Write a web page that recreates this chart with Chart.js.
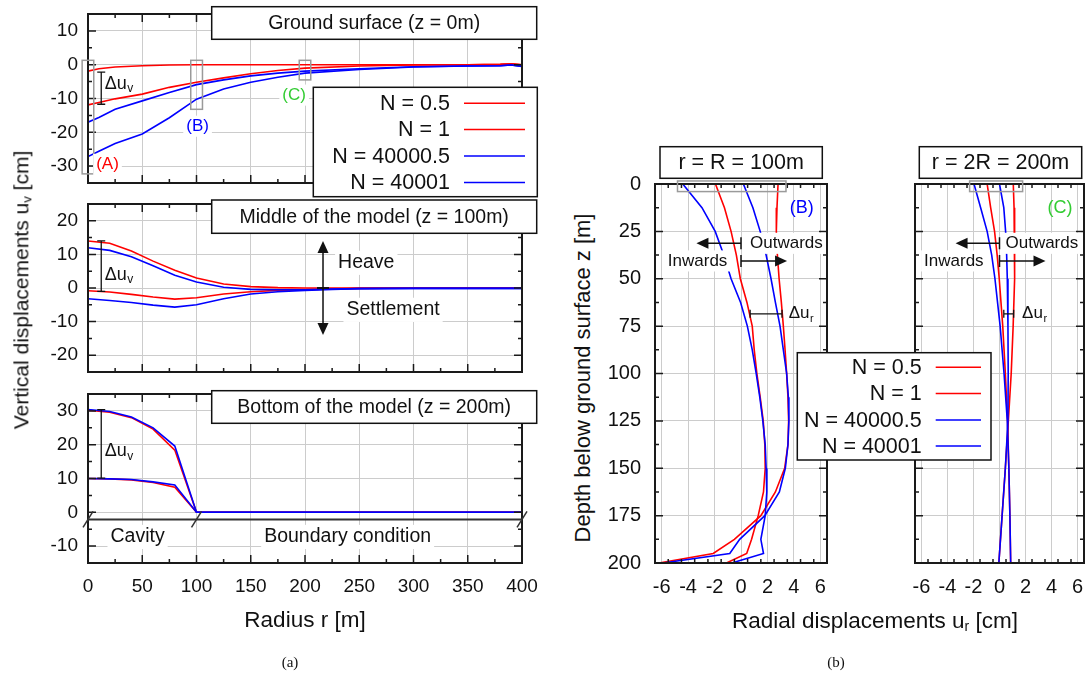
<!DOCTYPE html>
<html>
<head>
<meta charset="utf-8">
<title>Vertical and radial displacements</title>
<script src="https://cdn.jsdelivr.net/npm/chart.js@4.4.1/dist/chart.umd.min.js"></script>
<style>
  body { margin: 0; width: 1088px; height: 683px; background: #fff; position: relative; overflow: hidden;
         font-family: "Liberation Sans", Arial, sans-serif; color: #111; }
  canvas { position: absolute; }
  .axt { position: absolute; white-space: nowrap; font-size: 21px; transform: translate(-50%, -50%); }
  .rot { transform: translate(-50%, -50%) rotate(-90deg); }
  .cap { position: absolute; font-family: "Liberation Serif", "Times New Roman", serif; font-size: 15px; transform: translate(-50%, -50%); }
  sub { font-size: 0.62em; vertical-align: -0.25em; }
</style>
</head>
<body>
<canvas id="ground" width="545" height="200" style="left:0;top:0"></canvas>
<canvas id="middle" width="545" height="185" style="left:0;top:195px"></canvas>
<canvas id="bottom" width="545" height="225" style="left:0;top:385px"></canvas>
<canvas id="atR" width="240" height="470" style="left:600px;top:140px"></canvas>
<canvas id="at2R" width="298" height="470" style="left:790px;top:140px"></canvas>

<div class="axt rot" style="left:22px;top:290px">Vertical displacements u<sub>v</sub> [cm]</div>
<div class="axt" style="left:305px;top:620px;font-size:22.5px">Radius r [m]</div>
<div class="axt rot" style="left:583px;top:378px;font-size:22px">Depth below ground surface z [m]</div>
<div class="axt" style="left:875px;top:621px;font-size:22.5px">Radial displacements u<sub>r</sub> [cm]</div>
<div class="cap" style="left:290px;top:662px">(a)</div>
<div class="cap" style="left:836px;top:662px">(b)</div>

<script>
// series (same order in every panel)
const seriesNames = ["N = 0.5", "N = 1", "N = 40000.5", "N = 40001"];
const seriesColors = ["#ff0000", "#ff0000", "#0000ff", "#0000ff"];

// tick labels
const radiusTicks = [0, 50, 100, 150, 200, 250, 300, 350, 400];
const groundTicks = [-30, -20, -10, 0, 10];
const middleTicks = [-20, -10, 0, 10, 20];
const bottomTicks = [-10, 0, 10, 20, 30];
const radialTicks = [-6, -4, -2, 0, 2, 4, 6];
const depthTicks = [0, 25, 50, 75, 100, 125, 150, 175, 200];

// (a) ground surface, z = 0m  -> u_v [cm] over radius r [m]
const rGround = [0, 10, 25, 50, 75, 100, 125, 150, 175, 200, 250, 300, 350, 380, 390, 400];
const uvGroundN05 = [-11.9, -11.2, -10.1, -8.7, -6.7, -5.2, -3.9, -2.7, -1.7, -1.0, -0.4, -0.1, 0, 0.1, 0.3, 0];
const uvGroundN1 = [-1.9, -1.2, -0.7, -0.3, -0.1, 0, 0, 0, 0, 0, 0, 0, 0, 0.1, 0.3, 0];
const uvGroundN40000_5 = [-17.0, -15.6, -13.2, -10.7, -8.2, -5.9, -4.5, -3.3, -2.5, -1.9, -1.2, -0.6, -0.4, -0.3, -0.1, -0.5];
const uvGroundN40001 = [-27.2, -25.6, -23.3, -20.5, -15.7, -10.2, -7.2, -5.2, -3.7, -2.5, -1.4, -0.7, -0.4, -0.3, -0.1, -0.5];

// (a) middle of the model, z = 100m
const rMiddle = [0, 20, 40, 60, 80, 100, 125, 150, 175, 200, 225, 250, 300, 350, 400];
const uvMiddleN05 = [14.0, 13.3, 11.0, 8.0, 5.3, 3.0, 1.2, 0.4, 0.1, 0, 0, 0, 0, 0, 0];
const uvMiddleN1 = [-0.8, -1.2, -1.9, -2.7, -3.3, -2.9, -1.8, -1.1, -0.7, -0.5, -0.3, -0.1, 0, 0, 0];
const uvMiddleN40000_5 = [12.0, 11.2, 9.3, 6.6, 3.8, 1.8, 0.2, -0.4, -0.5, -0.5, -0.3, -0.2, -0.1, -0.1, -0.1];
const uvMiddleN40001 = [-3.2, -3.7, -4.3, -5.1, -5.7, -5.0, -3.2, -1.8, -1.1, -0.7, -0.4, -0.2, -0.1, -0.1, -0.1];

// (a) bottom of the model, z = 200m
const rBottom = [0, 20, 40, 60, 80, 100, 400];
const uvBottomN05 = [30.2, 29.6, 28.0, 24.6, 18.4, 0, 0];
const uvBottomN1 = [10.0, 9.9, 9.6, 8.8, 7.4, 0, 0];
const uvBottomN40000_5 = [30.4, 29.8, 28.2, 25.0, 19.6, 0, 0];
const uvBottomN40001 = [10.0, 9.9, 9.7, 9.0, 8.1, 0, 0];

// (b) r = R = 100m  -> u_r [cm] over depth z [m]
const zR = [0, 12.5, 25, 37.5, 50, 62.5, 75, 87.5, 100, 112.5, 125, 137.5, 150, 162.5, 175, 187.5, 195, 200];
const urRN05 = [2.8, 2.72, 2.67, 2.75, 2.88, 3.05, 3.2, 3.33, 3.45, 3.55, 3.6, 3.55, 3.3, 2.6, 1.5, -0.5, -2.1, -6.2];
const urRN1 = [-1.93, -1.25, -0.75, -0.35, -0.05, 0.45, 0.85, 1.0, 1.2, 1.45, 1.68, 1.8, 1.83, 1.7, 1.3, 0.8, 0.43, -1.1];
const urRN40000_5 = [0.18, 0.9, 1.45, 1.9, 2.27, 2.6, 2.95, 3.2, 3.45, 3.58, 3.62, 3.55, 3.35, 2.9, 1.8, -0.1, -0.85, -5.9];
const urRN40001 = [-4.4, -2.95, -1.95, -1.3, -0.75, -0.03, 0.48, 0.85, 1.15, 1.42, 1.65, 1.83, 1.9, 1.95, 1.83, 1.5, 1.7, -0.7];

// (b) r = 2R = 200m
const z2R = [0, 12.5, 25, 37.5, 50, 75, 100, 125, 150, 175, 200];
const ur2RN05 = [1.06, 1.12, 1.17, 1.17, 1.15, 1.05, 0.9, 0.68, 0.45, 0.2, -0.05];
const ur2RN1 = [-0.95, -0.68, -0.38, -0.18, -0.02, 0.25, 0.45, 0.62, 0.72, 0.8, 0.86];
const ur2RN40000_5 = [0.0, 0.33, 0.47, 0.55, 0.6, 0.65, 0.67, 0.65, 0.45, 0.2, -0.05];
const ur2RN40001 = [-1.96, -1.45, -0.95, -0.6, -0.35, 0.05, 0.35, 0.6, 0.72, 0.8, 0.86];

const FONT = '"Liberation Sans", Arial, sans-serif';
Chart.defaults.font.family = FONT;
Chart.defaults.color = "#111";

function pairs(xs, ys) { return xs.map((x, i) => ({ x: x, y: ys[i] })); }
function depthPairs(zs, us) { return zs.map((z, i) => ({ x: us[i], y: z })); }

function arrowHead(ctx, x, y, dx, dy, len, half) {
  ctx.beginPath();
  ctx.moveTo(x, y);
  ctx.lineTo(x - dx * len - dy * half, y - dy * len + dx * half);
  ctx.lineTo(x - dx * len + dy * half, y - dy * len - dx * half);
  ctx.closePath();
  ctx.fill();
}

// keep the plot box exactly where it was measured (no label overhang padding)
function noPad(s) { s.paddingTop = 0; s.paddingBottom = 0; s.paddingLeft = 0; s.paddingRight = 0; }

// frame, inward ticks and the gnuplot style labels/arrows
const decor = {
  id: "decor",
  afterDraw(chart, args, o) {
    const ctx = chart.ctx, a = chart.chartArea;
    const xs = chart.scales.x, ys = chart.scales.y;
    const X = v => xs.getPixelForValue(v), Y = v => ys.getPixelForValue(v);
    const px = v => v - o.ox, py = v => v - o.oy;
    ctx.save();

    ctx.strokeStyle = "#1a1a1a";
    ctx.lineWidth = 1.5;
    ctx.beginPath();
    for (let v = xs.min; v <= xs.max + 1e-9; v += o.xMinor) {
      const major = o.xTicks.some(t => Math.abs(t - v) < 1e-6);
      const l = major ? 8 : 4, x = X(v);
      ctx.moveTo(x, a.bottom); ctx.lineTo(x, a.bottom - l);
      ctx.moveTo(x, a.top); ctx.lineTo(x, a.top + l);
    }
    for (let v = Math.min(ys.min, ys.max); v <= Math.max(ys.min, ys.max) + 1e-9; v += o.yMinor) {
      const major = o.yTicks.some(t => Math.abs(t - v) < 1e-6);
      const l = major ? 8 : 4, y = Y(v);
      ctx.moveTo(a.left, y); ctx.lineTo(a.left + l, y);
      ctx.moveTo(a.right, y); ctx.lineTo(a.right - l, y);
    }
    ctx.stroke();
    ctx.lineWidth = 2;
    ctx.strokeRect(a.left, a.top, a.right - a.left, a.bottom - a.top);

    (o.items || []).forEach(it => {
      ctx.fillStyle = "#111";
      ctx.strokeStyle = "#111";
      if (it.type === "grayRect") {
        ctx.strokeStyle = "#9a9a9a"; ctx.lineWidth = 1.5;
        const x0 = X(it.x0), x1 = X(it.x1), y0 = Y(it.y0), y1 = Y(it.y1);
        ctx.strokeRect(Math.min(x0, x1), Math.min(y0, y1), Math.abs(x1 - x0), Math.abs(y1 - y0));
      } else if (it.type === "label") {
        ctx.font = it.size + "px " + FONT;
        ctx.textBaseline = "middle";
        ctx.textAlign = it.align || "center";
        const w = ctx.measureText(it.text).width;
        const x = X(it.x), y = Y(it.y);
        if (it.bg) {
          const lx = it.align === "left" ? x : x - w / 2;
          ctx.fillStyle = "#fff";
          ctx.fillRect(lx - 3, y - it.size * 0.62, w + 6, it.size * 1.24);
        }
        ctx.fillStyle = it.color || "#111";
        ctx.fillText(it.text, x, y);
      } else if (it.type === "delta") {
        ctx.font = it.size + "px " + FONT;
        ctx.textBaseline = "middle"; ctx.textAlign = "left";
        const x = X(it.x), y = Y(it.y);
        const w = ctx.measureText("\u0394u").width;
        ctx.fillText("\u0394u", x, y);
        ctx.font = Math.round(it.size * 0.65) + "px " + FONT;
        ctx.fillText(it.sub, x + w + 0.5, y + it.size * 0.3);
      } else if (it.type === "vbracket") {
        ctx.lineWidth = 1.3;
        const x = X(it.x), y0 = Y(it.y0), y1 = Y(it.y1);
        ctx.beginPath();
        ctx.moveTo(x, y0); ctx.lineTo(x, y1);
        ctx.moveTo(x - 4, y0); ctx.lineTo(x + 4, y0);
        ctx.moveTo(x - 4, y1); ctx.lineTo(x + 4, y1);
        ctx.stroke();
      } else if (it.type === "hbracket") {
        ctx.lineWidth = 1.3;
        const y = Y(it.y), x0 = X(it.x0), x1 = X(it.x1);
        ctx.beginPath();
        ctx.moveTo(x0, y); ctx.lineTo(x1, y);
        ctx.moveTo(x0, y - 4); ctx.lineTo(x0, y + 4);
        ctx.moveTo(x1, y - 4); ctx.lineTo(x1, y + 4);
        ctx.stroke();
      } else if (it.type === "arrow") {
        ctx.lineWidth = 1.5;
        const x0 = X(it.x0), y0 = Y(it.y0), x1 = X(it.x1), y1 = Y(it.y1);
        const d = Math.hypot(x1 - x0, y1 - y0), dx = (x1 - x0) / d, dy = (y1 - y0) / d;
        ctx.beginPath();
        ctx.moveTo(x0, y0); ctx.lineTo(x1 - dx * 8, y1 - dy * 8);
        ctx.moveTo(x0 - dy * 6, y0 + dx * 6); ctx.lineTo(x0 + dy * 6, y0 - dx * 6);
        ctx.stroke();
        arrowHead(ctx, x1, y1, dx, dy, 12, 5.5);
      } else if (it.type === "hline") {
        ctx.strokeStyle = "#333"; ctx.lineWidth = 2;
        ctx.beginPath(); ctx.moveTo(X(it.x0), Y(it.y)); ctx.lineTo(X(it.x1), Y(it.y)); ctx.stroke();
      } else if (it.type === "slash") {
        ctx.strokeStyle = "#333"; ctx.lineWidth = 1.5;
        const x = X(it.x), y = Y(it.y);
        ctx.beginPath(); ctx.moveTo(x - 5, y + 8); ctx.lineTo(x + 5, y - 8); ctx.stroke();
      } else if (it.type === "titleBox") {
        const x0 = px(it.x0), y0 = py(it.y0), w = it.x1 - it.x0, h = it.y1 - it.y0;
        ctx.fillStyle = "#fff"; ctx.fillRect(x0, y0, w, h);
        ctx.lineWidth = 1.5; ctx.strokeStyle = "#111"; ctx.strokeRect(x0, y0, w, h);
        ctx.fillStyle = "#111"; ctx.font = it.size + "px " + FONT;
        ctx.textAlign = "center"; ctx.textBaseline = "middle";
        ctx.fillText(it.text, x0 + w / 2, y0 + h / 2 + 1);
      } else if (it.type === "legend") {
        const x0 = px(it.x0), y0 = py(it.y0), w = it.x1 - it.x0, h = it.y1 - it.y0;
        ctx.fillStyle = "#fff"; ctx.fillRect(x0, y0, w, h);
        ctx.lineWidth = 1.5; ctx.strokeStyle = "#111"; ctx.strokeRect(x0, y0, w, h);
        ctx.font = it.size + "px " + FONT;
        ctx.textAlign = "right"; ctx.textBaseline = "middle";
        chart.data.datasets.forEach((ds, i) => {
          const y = py(it.rows[i]);
          ctx.fillStyle = "#111";
          ctx.fillText(ds.label, px(it.textRight), y + 1);
          ctx.strokeStyle = ds.borderColor; ctx.lineWidth = 1.6;
          ctx.beginPath(); ctx.moveTo(px(it.line0), y); ctx.lineTo(px(it.line1), y); ctx.stroke();
        });
      }
    });
    ctx.restore();
  }
};

function panel(id, page, area, cfg) {
  return new Chart(document.getElementById(id), {
    type: "scatter",
    data: {
      datasets: cfg.series.map((pts, i) => ({
        label: seriesNames[i], data: pts, showLine: true, borderColor: seriesColors[i],
        backgroundColor: seriesColors[i], borderWidth: 1.6, pointRadius: 0, pointHoverRadius: 0,
        tension: 0, fill: false, order: seriesNames.length - i   // later series drawn on top
      }))
    },
    options: {
      responsive: false, animation: false, events: [],
      layout: { autoPadding: false, padding: { left: 0, top: area.t - page.t, right: page.l + page.w - area.r, bottom: 0 } },
      plugins: {
        legend: { display: false }, tooltip: { enabled: false },
        decor: { ox: page.l, oy: page.t, xTicks: cfg.xTicks, yTicks: cfg.yTicks, xMinor: cfg.xMinor, yMinor: cfg.yMinor, items: cfg.items }
      },
      scales: {
        x: {
          type: "linear", position: "bottom", min: cfg.xMin, max: cfg.xMax,
          afterBuildTicks: s => { s.ticks = cfg.xTicks.map(v => ({ value: v })); },
          afterFit: s => { s.height = page.t + page.h - area.b; noPad(s); },
          ticks: { display: cfg.xLabels, padding: 12, autoSkip: false, maxRotation: 0, minRotation: 0,
                   font: { size: cfg.tickSize }, color: "#111", callback: v => String(v) },
          grid: { color: "#cccccc", lineWidth: 1, drawTicks: false }, border: { display: false }
        },
        y: {
          type: "linear", position: "left", min: cfg.yMin, max: cfg.yMax, reverse: !!cfg.reverse,
          afterBuildTicks: s => { s.ticks = cfg.yTicks.map(v => ({ value: v })); },
          afterFit: s => { s.width = area.l - page.l; noPad(s); },
          ticks: { display: cfg.yLabels, padding: cfg.yPad, autoSkip: false,
                   font: { size: cfg.tickSize }, color: "#111", callback: v => String(v) },
          grid: { color: "#cccccc", lineWidth: 1, drawTicks: false }, border: { display: false }
        }
      }
    },
    plugins: [decor]
  });
}

const leftCommon = { xMin: 0, xMax: 400, xTicks: radiusTicks, xMinor: 25, yMinor: 5, yLabels: true, yPad: 10, tickSize: 19 };
const boxFont = 19.5;

panel("ground", { l: 0, t: 0, w: 545, h: 200 }, { l: 88, t: 14, r: 522, b: 183 }, Object.assign({}, leftCommon, {
  yMin: -35, yMax: 15, yTicks: groundTicks, xLabels: false,
  series: [pairs(rGround, uvGroundN05), pairs(rGround, uvGroundN1), pairs(rGround, uvGroundN40000_5), pairs(rGround, uvGroundN40001)],
  items: [
    { type: "grayRect", x0: -5.4, x1: 5.3, y0: 1.3, y1: -32.3 },
    { type: "grayRect", x0: 94.7, x1: 105.5, y0: 1.3, y1: -13.2 },
    { type: "grayRect", x0: 194.7, x1: 205.3, y0: 1.3, y1: -4.5 },
    { type: "label", text: "(A)", x: 18, y: -29.5, color: "#ff0000", size: 17, bg: true },
    { type: "label", text: "(B)", x: 101, y: -18.2, color: "#0000ff", size: 17, bg: true },
    { type: "label", text: "(C)", x: 190, y: -9.0, color: "#33cc33", size: 17, bg: true },
    { type: "vbracket", x: 12.2, y0: -2.2, y1: -11.7 },
    { type: "delta", sub: "v", x: 15.5, y: -5.6, size: 18 },
    { type: "titleBox", text: "Ground surface (z = 0m)", x0: 211.7, y0: 6.7, x1: 536.7, y1: 39.3, size: boxFont },
    { type: "legend", x0: 313.3, y0: 87.3, x1: 537.3, y1: 196.7, rows: [103.3, 129.5, 156, 182.5], textRight: 450, line0: 464, line1: 525, size: 21.5 }
  ]
}));

panel("middle", { l: 0, t: 195, w: 545, h: 185 }, { l: 88, t: 204, r: 522, b: 372 }, Object.assign({}, leftCommon, {
  yMin: -25, yMax: 25, yTicks: middleTicks, xLabels: false,
  series: [pairs(rMiddle, uvMiddleN05), pairs(rMiddle, uvMiddleN1), pairs(rMiddle, uvMiddleN40000_5), pairs(rMiddle, uvMiddleN40001)],
  items: [
    { type: "vbracket", x: 12.2, y0: 14.0, y1: -1.0 },
    { type: "delta", sub: "v", x: 15.5, y: 4.0, size: 18 },
    { type: "label", text: "Heave", x: 230.5, y: 7.5, size: 19.5, align: "left", bg: true },
    { type: "label", text: "Settlement", x: 238.2, y: -6.5, size: 19.5, align: "left", bg: true },
    { type: "arrow", x0: 216.6, y0: 0, x1: 216.6, y1: 14 },
    { type: "arrow", x0: 216.6, y0: 0, x1: 216.6, y1: -14 },
    { type: "titleBox", text: "Middle of the model (z = 100m)", x0: 211.7, y0: 200, x1: 536.7, y1: 233.3, size: boxFont }
  ]
}));

panel("bottom", { l: 0, t: 385, w: 545, h: 225 }, { l: 88, t: 394, r: 522, b: 563 }, Object.assign({}, leftCommon, {
  yMin: -15, yMax: 35, yTicks: bottomTicks, xLabels: true,
  series: [pairs(rBottom, uvBottomN05), pairs(rBottom, uvBottomN1), pairs(rBottom, uvBottomN40000_5), pairs(rBottom, uvBottomN40001)],
  items: [
    { type: "vbracket", x: 12.2, y0: 30.4, y1: 10.1 },
    { type: "delta", sub: "v", x: 15.5, y: 18.1, size: 18 },
    { type: "hline", x0: 0, x1: 400, y: -2.1 },
    { type: "slash", x: 0, y: -2.1 },
    { type: "slash", x: 100, y: -2.1 },
    { type: "slash", x: 400, y: -2.1 },
    { type: "label", text: "Cavity", x: 45.7, y: -7.3, size: 19.5, bg: true },
    { type: "label", text: "Boundary condition", x: 239.3, y: -7.3, size: 19.5, bg: true },
    { type: "titleBox", text: "Bottom of the model (z = 200m)", x0: 211.7, y0: 390.7, x1: 536.7, y1: 423.3, size: boxFont }
  ]
}));

const rightCommon = { xMin: -6.5, xMax: 6.5, xTicks: radialTicks, xMinor: 1, yMin: 0, yMax: 200, yTicks: depthTicks, yMinor: 12.5,
                      reverse: true, xLabels: true, yPad: 14, tickSize: 20 };

panel("atR", { l: 600, t: 140, w: 240, h: 470 }, { l: 655, t: 184, r: 827, b: 563 }, Object.assign({}, rightCommon, {
  yLabels: true,
  series: [depthPairs(zR, urRN05), depthPairs(zR, urRN1), depthPairs(zR, urRN40000_5), depthPairs(zR, urRN40001)],
  items: [
    { type: "grayRect", x0: -4.8, x1: 3.4, y0: -1.6, y1: 4 },
    { type: "label", text: "(B)", x: 4.6, y: 12.8, color: "#0000ff", size: 18 },
    { type: "label", text: "Outwards", x: 0.68, y: 31.3, size: 17, align: "left", bg: true },
    { type: "label", text: "Inwards", x: -5.53, y: 40.6, size: 17, align: "left", bg: true },
    { type: "arrow", x0: 0, y0: 31.3, x1: -3.37, y1: 31.3 },
    { type: "arrow", x0: 0, y0: 40.6, x1: 3.48, y1: 40.6 },
    { type: "hbracket", y: 68.5, x0: 0.69, x1: 3.1 },
    { type: "delta", sub: "r", x: 3.6, y: 68.5, size: 17 },
    { type: "titleBox", text: "r = R = 100m", x0: 660, y0: 146.7, x1: 822.3, y1: 178.3, size: 21.5 }
  ]
}));

panel("at2R", { l: 790, t: 140, w: 298, h: 470 }, { l: 915, t: 184, r: 1084, b: 563 }, Object.assign({}, rightCommon, {
  yLabels: false,
  series: [depthPairs(z2R, ur2RN05), depthPairs(z2R, ur2RN1), depthPairs(z2R, ur2RN40000_5), depthPairs(z2R, ur2RN40001)],
  items: [
    { type: "grayRect", x0: -2.3, x1: 1.78, y0: -1.6, y1: 4 },
    { type: "label", text: "(C)", x: 4.65, y: 12.8, color: "#33cc33", size: 18 },
    { type: "label", text: "Outwards", x: 0.46, y: 31.3, size: 17, align: "left", bg: true },
    { type: "label", text: "Inwards", x: -5.8, y: 40.6, size: 17, align: "left", bg: true },
    { type: "arrow", x0: 0, y0: 31.3, x1: -3.38, y1: 31.3 },
    { type: "arrow", x0: 0, y0: 40.6, x1: 3.54, y1: 40.6 },
    { type: "hbracket", y: 68.5, x0: 0.33, x1: 1.09 },
    { type: "delta", sub: "r", x: 1.74, y: 68.5, size: 17 },
    { type: "titleBox", text: "r = 2R = 200m", x0: 919.3, y0: 146.7, x1: 1081.7, y1: 178.3, size: 21.5 },
    { type: "legend", x0: 797.3, y0: 352.7, x1: 991, y1: 460, rows: [367.3, 393.5, 420, 446], textRight: 921.7, line0: 935.7, line1: 981, size: 21.5 }
  ]
}));
</script>
</body>
</html>
